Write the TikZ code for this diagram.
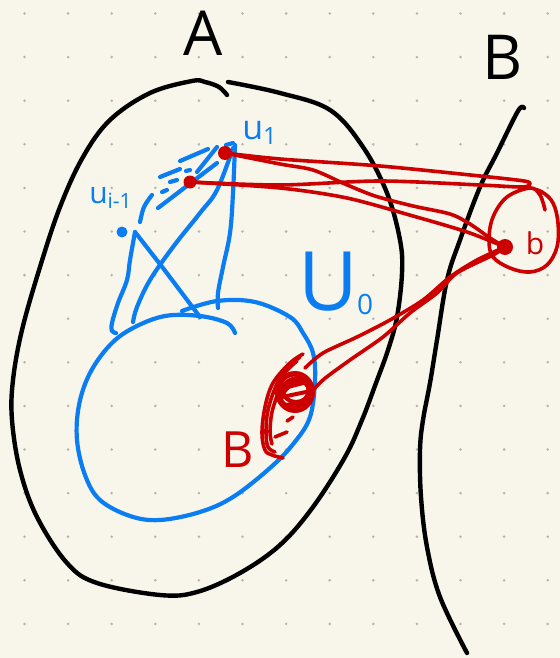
\documentclass[tikz,border=0pt]{standalone}
\usepackage{fontspec}
\setmainfont{Open Sans}
\usetikzlibrary{calc}
\definecolor{paper}{HTML}{F8F6EB}
\definecolor{griddot}{HTML}{B4B2AA}
\definecolor{penblue}{HTML}{0A7DF2}
\definecolor{penred}{HTML}{CC0000}
\begin{document}
\begin{tikzpicture}[x=0.5pt, y=-0.5pt, line cap=round, line join=round,
  blackpen/.style={line width=2.2pt, black},
  bluepen/.style={line width=2.1pt, penblue},
  redpen/.style={line width=1.8pt, penred},
  dotnode/.style={circle, fill, inner sep=0pt, minimum size=#1},
  lab/.style={inner sep=0pt, anchor=center}]
% paper and dot grid
\fill[paper] (0,0) rectangle (560,658);
\useasboundingbox (0,0) rectangle (560,658);
\foreach \i in {0,...,12}
  \foreach \j in {0,...,14}
    \fill[griddot] ({24.5+43.6*\i},{13.5+43.6*\j}) circle (0.7pt);

% set A
\draw[blackpen] plot[smooth, tension=0.6] coordinates {
  (227,95) (219,87) (205,82) (192,81) (150,93) (110,120) (83,157) (60,207)
  (40,267) (22,330) (13,380) (12,420) (20,470) (37,517) (67,563) (97,583)
  (160,595) (197,592) (240,573) (280,545) (313,507) (345,457) (362,420)
  (376,383) (388,350) (397,317) (402,273) (400,240) (387,193) (363,147)
  (330,110) (280,93) (228,82)};
% set B
\draw[blackpen] plot[smooth, tension=0.6] coordinates {
  (524,108) (518,111) (497,153) (480,187) (460,240) (447,280) (437,340)
  (430,383) (423,420) (420,450) (421,497) (427,547) (440,597) (467,653)};

% labels of the sets
\node[lab, font=\fontsize{31}{31}\selectfont] (labA) at (203,33) {A};
\node[lab, font=\fontsize{31}{31}\selectfont] (labB) at (503,57) {B};

% neighbourhood U0
\draw[bluepen] plot[smooth, tension=0.6] coordinates {
  (182,311) (217,301) (255,302) (290,317) (303,333) (313,353) (315,380)
  (310,417) (294,443) (270,468) (233,497) (200,512) (160,520) (130,516)
  (100,500) (85,475) (77,440) (79,405) (90,373) (110,345) (133,328)
  (165,316) (200,316) (227,323) (235,333)};
\node[lab, penblue] (labU) at (336,283) {\fontsize{41}{41}\selectfont U\kern-0.02em\raisebox{-0.05em}{\fontsize{14}{14}\selectfont 0}};

% points u_1, u_{i-1}
\node[dotnode=5.5pt, penblue] (ublue) at (122,232) {};
\coordinate (leg) at (135,232);
\node[lab, penblue, font=\fontsize{17}{17}\selectfont] (labu1) at (260,133) {u\textsubscript{1}};
\node[lab, penblue, font=\fontsize{15}{15}\selectfont] (labui) at (111,198) {u\textsubscript{i-1}};

% blue strokes
\draw[bluepen] plot[smooth, tension=0.6] coordinates {
  (leg) (130,260) (127,280) (118,303) (112,323) (112,331) (116,333)};
\draw[bluepen] (leg) -- (163,268) -- (200,317);
\draw[bluepen] plot[smooth, tension=0.6] coordinates {
  (233,148) (217,190) (200,213) (173,247) (150,280) (137,307) (133,322)};
\draw[bluepen] plot[smooth, tension=0.6] coordinates {
  (235,145) (233,193) (230,233) (223,267) (218,293) (218,308)};
% hatching between the two points
\draw[bluepen] (180,161) -- (208,149);
\draw[bluepen] (197,172) -- (217,147);
\draw[bluepen] (160,177) -- (180,169);
\draw[bluepen] (170,182) -- (177,180);
\draw[bluepen] (186,171) -- (190,170);
\draw[bluepen] (162,192) -- (167,190);
\draw[bluepen] (158,208) -- (217,163);
\draw[bluepen] plot[smooth, tension=0.6] coordinates {(140,222) (144,207) (152,195)};
\draw[bluepen] (226,145) -- (233,143);

% red points
\node[dotnode=7pt, penred] (u1) at (225,153) {};
\node[dotnode=6.5pt, penred] (ui) at (190,182) {};
\node[dotnode=8pt, penred] (b) at (505,247) {};
\node[lab, penred, font=\fontsize{15}{15}\selectfont] (labb) at (535,243) {b};

% circle around b
\draw[redpen] plot[smooth, tension=0.6] coordinates {
  (545,210) (540,195) (530,188) (507,197) (493,217) (489,240) (493,257)
  (510,268) (530,272) (547,265) (557,247) (558,223) (553,203) (542,192)
  (527,187)};

% paths from u_1 and u_{i-1}
\draw[redpen] plot[smooth, tension=0.5] coordinates {
  (u1.center) (280,159) (380,166) (480,176) (524,181) (530,184) (522,187)
  (480,185) (380,181) (280,185) (ui.center)};
\draw[redpen] plot[smooth, tension=0.5] coordinates {
  (u1.center) (280,164) (313,170) (345,184) (375,196) (413,206) (450,214)
  (470,224) (490,238) (b.center)};
\draw[redpen] plot[smooth, tension=0.5] coordinates {
  (ui.center) (280,188) (347,198) (413,216) (467,232) (b.center)};

% ball B
\coordinate (ballB) at (295,392);
\draw[redpen] plot[smooth, tension=0.5] coordinates {
  (b.center) (477,260) (450,277) (423,300) (390,320) (357,337) (323,353) (305,368)};
\draw[redpen] plot[smooth, tension=0.5] coordinates {
  (b.center) (493,255) (457,273) (437,293) (410,313) (383,337) (350,360)
  (323,380) (305,399)};
\begin{scope}[redpen, line width=2pt]
  \draw (ballB) ellipse [x radius=18, y radius=19];
  \draw[rotate around={25:(ballB)}] ($(ballB)+(1,1)$) ellipse [x radius=17, y radius=14];
  \draw[rotate around={-20:(ballB)}] ($(ballB)+(-2,0)$) ellipse [x radius=15, y radius=17];
  \draw ($(ballB)+(1,-1)$) ellipse [x radius=13, y radius=11];
  \draw[rotate around={40:(ballB)}] ($(ballB)+(-1,2)$) ellipse [x radius=17, y radius=10];
  \draw (284,388) -- (307,382);
  \draw (282,397) -- (306,392);
  \draw (286,405) -- (301,402);
\end{scope}
\draw[redpen] plot[smooth, tension=0.6] coordinates {
  (303,354) (290,363) (273,383) (265,407) (262,433) (265,450) (272,455) (283,458)};
\draw[redpen] plot[smooth, tension=0.6] coordinates {
  (300,357) (286,369) (276,386) (268,410) (266,432) (268,447) (275,452)};
\draw[redpen] plot[smooth, tension=0.6] coordinates {
  (297,361) (284,374) (279,390) (272,412) (270,432) (272,444)};
\draw[redpen] (287,421) -- (293,417);
\draw[redpen] (275,437) -- (287,432);
\node[lab, penred, font=\fontsize{25}{25}\selectfont] (labBall) at (238,450) {B};
\end{tikzpicture}
\end{document}
